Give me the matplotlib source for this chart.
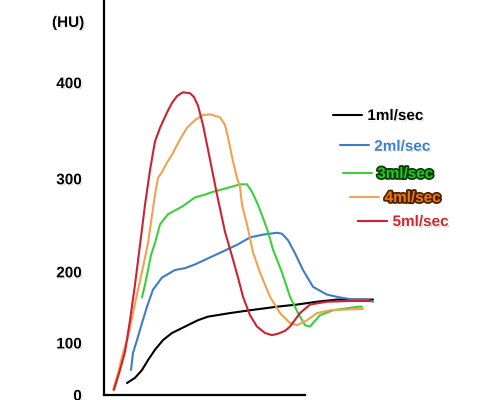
import matplotlib
matplotlib.use("Agg")
import matplotlib.pyplot as plt
import matplotlib.patheffects as pe
import numpy as np

plt.rcParams["font.family"] = ["Liberation Sans", "DejaVu Sans"]

# time (s) / enhancement (HU)
t_1ml = [4.6, 6.2, 7.6, 8.8, 10.2, 11.8, 13.6, 16.2, 18.8, 20.8, 25.2, 29.2,
         34.6, 38.6, 42.6, 46.6, 53.8]
hu_1ml = [23, 33, 48, 67, 87, 104, 114, 123, 132, 137, 142, 146,
          151, 154, 158, 161, 161]

t_2ml = [5.4, 5.8, 6.6, 7.6, 8.6, 9.8, 11.6, 14.2, 16.2, 18.2, 20.2, 22.2, 23.8,
         26.6, 29.2, 31.8, 34.6, 35.6, 36.8, 38.2, 39.8, 41.8, 44.6, 47.2,
         49.8, 52.6, 53.8]
hu_2ml = [48, 81, 104, 128, 151, 175, 192, 202, 204, 208, 213, 218, 222,
          229, 237, 240, 242, 241, 234, 220, 202, 179, 168, 164,
          161, 161, 158]

t_3ml = [7.6, 8.2, 8.8, 9.4, 10.2, 11.2, 12.8, 15.6, 18.2, 20.2, 21.8, 24.6,
         27.2, 28.6, 29.6, 30.8, 31.8, 32.8, 33.8, 35.6, 37.2, 38.8, 40.2,
         41.2, 41.8, 43.2, 45.8, 50.8, 51.6]
hu_3ml = [164, 182, 202, 218, 231, 251, 262, 270, 280, 283, 286, 290,
          294, 294, 286, 272, 258, 243, 224, 199, 165, 142, 125,
          123, 128, 139, 146, 151, 151]

t_4ml = [1.8, 2.8, 3.8, 4.8, 5.8, 6.8, 7.8, 8.8, 10.2, 10.8, 11.6, 12.6, 13.6,
         15.2, 16.6, 18.2, 19.6, 21.2, 23.2, 24.2, 24.8, 25.8, 26.6, 27.2,
         27.6, 28.6, 29.8, 31.2, 33.2, 35.2, 37.2, 38.6, 40.6, 42.6, 45.2, 51.8]
hu_4ml = [10, 42, 81, 108, 142, 175, 205, 231, 283, 301, 307, 317, 325,
          341, 353, 361, 366, 367, 364, 356, 343, 318, 301, 291,
          272, 251, 221, 199, 165, 142, 128, 125, 132, 142, 146, 148]

t_5ml = [2.0, 3.2, 4.2, 5.2, 6.2, 7.2, 8.2, 9.2, 10.2, 11.2, 12.6, 13.6, 14.6,
         15.8, 17.2, 18.0, 18.8, 19.8, 21.2, 22.6, 24.2, 25.6, 26.8, 27.8,
         29.2, 30.6, 32.2, 33.6, 34.8, 36.2, 37.2, 39.2, 41.2, 44.6, 49.2, 53.2]
hu_5ml = [10, 48, 83, 132, 182, 229, 272, 309, 339, 353, 369, 379, 386,
          390, 389, 385, 376, 356, 320, 283, 243, 217, 192, 165,
          139, 123, 114, 111, 113, 117, 123, 142, 154, 158, 159, 159]

series_labels = ["1ml/sec", "2ml/sec", "3ml/sec", "4ml/sec", "5ml/sec"]
ytick_values = [0, 100, 200, 300, 400]

# the hand-drawn HU axis is not evenly spaced
hu_knots = [0, 100, 200, 300, 400, 600]
ht_knots = [0, 52, 123, 216, 312, 504]


def fwd(v):
    return np.interp(v, hu_knots, ht_knots)


def inv(v):
    return np.interp(v, ht_knots, hu_knots)


line_colors = ["black", "#3d7cc9", "#3ccf3c", "#f2a24e", "#cc2233"]
text_colors = ["black", "#3a7fd0", "#1fcc1f", "#f07a10", "#d42828"]
soft = [pe.withSimplePatchShadow(offset=(0.8, -0.8), shadow_rgbFace="#888888", alpha=0.6),
        pe.withStroke(linewidth=1.5, foreground="white")]
text_effects = [
    soft,
    soft,
    [pe.withStroke(linewidth=2.6, foreground="#0b3a0b")],
    [pe.withStroke(linewidth=2.6, foreground="#4a2200")],
    soft,
]
legend_anchors = [(0.674, 0.710), (0.688, 0.633), (0.694, 0.565),
                  (0.709, 0.505), (0.725, 0.445)]

fig = plt.figure(figsize=(4.94, 4.00), dpi=100)
ax = fig.add_axes([104 / 494, 5 / 400, 390 / 494, 395 / 400])
ax.set_yscale("function", functions=(fwd, inv))

xs = [t_1ml, t_2ml, t_3ml, t_4ml, t_5ml]
ys = [hu_1ml, hu_2ml, hu_3ml, hu_4ml, hu_5ml]
lines = []
for x, y, c, lab in zip(xs, ys, line_colors, series_labels):
    ln, = ax.plot(x, y, color=c, lw=1.5, label=lab,
                  solid_capstyle="round", solid_joinstyle="round")
    lines.append(ln)

ax.set_xlim(0, 78)
ax.set_ylim(0, 486)

for s in ["top", "right"]:
    ax.spines[s].set_visible(False)
ax.spines["left"].set_linewidth(1.6)
ax.spines["bottom"].set_linewidth(1.6)
ax.spines["bottom"].set_bounds(0, 40.2)

ax.set_xticks([])
ax.set_yticks(ytick_values)
ax.set_yticklabels([str(v) for v in ytick_values])
ax.yaxis.set_minor_locator(matplotlib.ticker.NullLocator())
ax.tick_params(axis="y", length=0, pad=16)
for lbl in ax.get_yticklabels():
    lbl.set_fontsize(11)
    lbl.set_fontweight("bold")
    lbl.set_path_effects(soft)

ax.set_ylabel("(HU)", rotation=0, fontsize=11, fontweight="bold",
              ha="center", va="center", path_effects=soft)
ax.yaxis.set_label_coords(-0.092, 0.942)

# staggered legend entries like the hand-written key
for ln, tc, eff, anc in zip(lines, text_colors, text_effects, legend_anchors):
    leg = ax.legend(handles=[ln], loc="center left", bbox_to_anchor=anc,
                    bbox_transform=fig.transFigure, frameon=False,
                    borderpad=0, borderaxespad=0, handlelength=1.9,
                    handletextpad=0.35,
                    prop={"size": 11, "weight": "bold"})
    for txt in leg.get_texts():
        txt.set_color(tc)
        txt.set_path_effects(eff)
    ax.add_artist(leg)

plt.savefig("out.png", dpi=100)
